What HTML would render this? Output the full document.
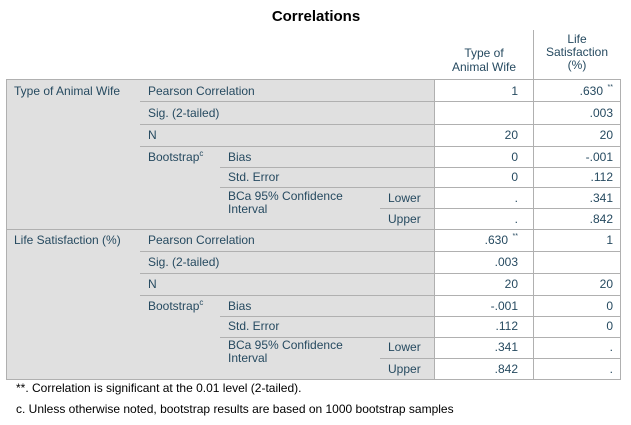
<!DOCTYPE html><html><head><style>body{margin:0;background:#fff}svg{display:block}text{font-family:"Liberation Sans",sans-serif;font-size:12px;fill:#264a60}</style></head><body>
<svg width="631" height="425" viewBox="0 0 631 425">
<text x="316" y="21" text-anchor="middle" style="font-size:15px;font-weight:bold;fill:#000">Correlations</text>
<rect x="6" y="79" width="429" height="300" fill="#e0e0e0"/>
<g stroke="#b0b0b0" stroke-width="1" fill="none">
<line x1="533.5" y1="30" x2="533.5" y2="379"/>
<line x1="434.5" y1="79" x2="434.5" y2="379"/>
<line x1="6" y1="79.5" x2="621" y2="79.5"/>
<line x1="6" y1="379.5" x2="621" y2="379.5"/>
<line x1="6.5" y1="79" x2="6.5" y2="379"/>
<line x1="620.5" y1="79" x2="620.5" y2="379"/>
<line x1="6" y1="229.5" x2="621" y2="229.5"/>
<line x1="140" y1="101.5" x2="621" y2="101.5"/>
<line x1="140" y1="124.5" x2="621" y2="124.5"/>
<line x1="140" y1="146.5" x2="621" y2="146.5"/>
<line x1="220" y1="167.5" x2="621" y2="167.5"/>
<line x1="220" y1="187.5" x2="621" y2="187.5"/>
<line x1="380" y1="208.5" x2="621" y2="208.5"/>
<line x1="140" y1="251.5" x2="621" y2="251.5"/>
<line x1="140" y1="273.5" x2="621" y2="273.5"/>
<line x1="140" y1="295.5" x2="621" y2="295.5"/>
<line x1="220" y1="316.5" x2="621" y2="316.5"/>
<line x1="220" y1="337.5" x2="621" y2="337.5"/>
<line x1="380" y1="358.5" x2="621" y2="358.5"/>
</g>
<text x="484" y="57" text-anchor="middle">Type of</text>
<text x="484" y="71" text-anchor="middle">Animal Wife</text>
<text x="577" y="43" text-anchor="middle">Life</text>
<text x="577" y="56" text-anchor="middle">Satisfaction</text>
<text x="577" y="69" text-anchor="middle">(%)</text>
<g>
<text x="14" y="95">Type of Animal Wife</text>
<text x="148" y="95">Pearson Correlation</text>
<text x="148" y="117">Sig. (2-tailed)</text>
<text x="148" y="139">N</text>
<text x="148" y="161">Bootstrap<tspan dy="-5" style="font-size:8px">c</tspan></text>
<text x="228" y="161">Bias</text>
<text x="228" y="181">Std. Error</text>
<text x="228" y="200">BCa 95% Confidence</text>
<text x="228" y="213">Interval</text>
<text x="388" y="202">Lower</text>
<text x="388" y="223">Upper</text>
<text x="14" y="244">Life Satisfaction (%)</text>
<text x="148" y="244">Pearson Correlation</text>
<text x="148" y="266">Sig. (2-tailed)</text>
<text x="148" y="288">N</text>
<text x="148" y="310">Bootstrap<tspan dy="-5" style="font-size:8px">c</tspan></text>
<text x="228" y="310">Bias</text>
<text x="228" y="330">Std. Error</text>
<text x="228" y="349">BCa 95% Confidence</text>
<text x="228" y="362">Interval</text>
<text x="388" y="351">Lower</text>
<text x="388" y="373">Upper</text>
</g>
<g text-anchor="end">
<text x="518" y="95">1</text><text x="603" y="95">.630</text><text x="613" y="89" style="font-size:7px">**</text>
<text x="613" y="117">.003</text>
<text x="518" y="139">20</text><text x="613" y="139">20</text>
<text x="518" y="161">0</text><text x="613" y="161">-.001</text>
<text x="518" y="181">0</text><text x="613" y="181">.112</text>
<text x="518" y="202">.</text><text x="613" y="202">.341</text>
<text x="518" y="223">.</text><text x="613" y="223">.842</text>
<text x="508" y="244">.630</text><text x="518" y="238" style="font-size:7px">**</text><text x="613" y="244">1</text>
<text x="518" y="266">.003</text>
<text x="518" y="288">20</text><text x="613" y="288">20</text>
<text x="518" y="310">-.001</text><text x="613" y="310">0</text>
<text x="518" y="330">.112</text><text x="613" y="330">0</text>
<text x="518" y="351">.341</text><text x="613" y="351">.</text>
<text x="518" y="373">.842</text><text x="613" y="373">.</text>
</g>
<text x="16" y="392" style="fill:#000">**. Correlation is significant at the 0.01 level (2-tailed).</text>
<text x="16" y="413" style="fill:#000">c. Unless otherwise noted, bootstrap results are based on 1000 bootstrap samples</text>
</svg></body></html>
